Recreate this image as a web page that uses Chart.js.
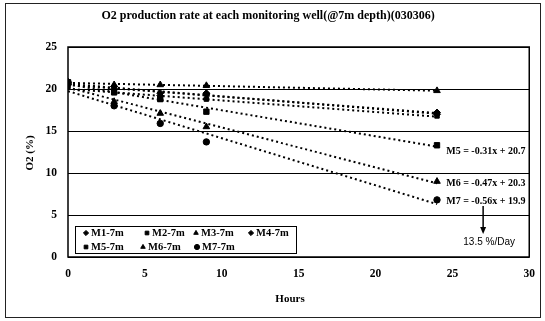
<!DOCTYPE html>
<html>
<head>
<meta charset="utf-8">
<script src="https://cdn.jsdelivr.net/npm/chart.js@4.4.1/dist/chart.umd.min.js"></script>
<style>
  html,body{margin:0;padding:0;background:#fff;}
  #wrap{width:545px;height:321px;position:relative;}
</style>
</head>
<body>
<div id="wrap"><canvas id="c" width="545" height="321"></canvas></div>
<script>
// ---- data ----
const hours = [0, 3, 6, 9, 24];
const seriesNames = ['M1-7m', 'M2-7m', 'M3-7m', 'M4-7m', 'M5-7m', 'M6-7m', 'M7-7m'];
const m1 = [20.8, 20.0, 19.2, 19.4, 17.2];
const m2 = [20.3, 19.6, 18.8, 18.8, 16.8];
const m3 = [20.8, 20.5, 20.5, 20.4, 19.8];
const m4 = [20.5, 20.3, 19.5, 19.5, 17.0];
const m5 = [20.8, 19.6, 18.8, 17.3, 13.3];
const m6 = [20.8, 18.5, 17.1, 15.5, 9.0];
const m7 = [20.8, 18.0, 15.9, 13.7, 6.8];
const yTicks = [0, 5, 10, 15, 20, 25];
const xTicks = [0, 5, 10, 15, 20, 25, 30];
const titleText = 'O2 production rate at each monitoring well(@7m depth)(030306)';
const equations = ['M5 = -0.31x + 20.7', 'M6 = -0.47x + 20.3', 'M7 = -0.56x + 19.9'];
const rateText = '13.5 %/Day';

const allSeries = [m1, m2, m3, m4, m5, m6, m7];
const pointStyles = ['rectRot', 'rect', 'triangle', 'rectRot', 'rect', 'triangle', 'circle'];
const pointSizes = [3.5, 3.2, 3.8, 3.5, 3.8, 3.8, 3.2];

// least-squares trendline (as the spreadsheet's linear trendline)
function fit(xs, ys) {
  const n = xs.length;
  const mx = xs.reduce((a, b) => a + b, 0) / n;
  const my = ys.reduce((a, b) => a + b, 0) / n;
  let sxy = 0, sxx = 0;
  for (let i = 0; i < n; i++) { sxy += (xs[i] - mx) * (ys[i] - my); sxx += (xs[i] - mx) ** 2; }
  const b = sxy / sxx;
  return { b, a: my - b * mx };
}

const datasets = [];
allSeries.forEach((s, i) => {
  const f = fit(hours, s);
  const x0 = hours[0], x1 = hours[hours.length - 1];
  datasets.push({
    label: seriesNames[i] + ' trend',
    data: [{ x: x0, y: f.a + f.b * x0 }, { x: x1, y: f.a + f.b * x1 }],
    showLine: true, borderColor: '#000', borderWidth: 2, borderDash: [2, 3],
    pointRadius: 0, fill: false
  });
});
allSeries.forEach((s, i) => {
  datasets.push({
    label: seriesNames[i],
    data: hours.map((h, k) => ({ x: h, y: s[k] })),
    showLine: false,
    pointStyle: pointStyles[i], pointRadius: pointSizes[i],
    backgroundColor: '#000', borderColor: '#000', borderWidth: 1
  });
});

const SERIF = '"Liberation Serif", "DejaVu Serif", serif';

const decor = {
  id: 'decor',
  beforeDraw(chart) {
    const ctx = chart.ctx;
    ctx.save();
    ctx.fillStyle = '#fff';
    ctx.fillRect(0, 0, chart.width, chart.height);
    ctx.restore();
  },
  afterDraw(chart) {
    const ctx = chart.ctx;
    const ca = chart.chartArea;
    const xs = chart.scales.x;
    ctx.save();
    // outer frame
    ctx.strokeStyle = '#222';
    ctx.lineWidth = 1;
    ctx.strokeRect(5.5, 3.5, 535, 314);
    // plot border
    ctx.strokeStyle = '#000';
    ctx.lineWidth = 1.5;
    ctx.strokeRect(ca.left, ca.top, ca.right - ca.left, ca.bottom - ca.top);
    // title
    ctx.fillStyle = '#000';
    ctx.font = 'bold 12px ' + SERIF;
    ctx.textAlign = 'center';
    ctx.textBaseline = 'middle';
    ctx.fillText(titleText, 268, 16);
    // axis titles
    ctx.font = 'bold 11px ' + SERIF;
    ctx.fillText('Hours', 290, 299);
    ctx.save();
    ctx.translate(30, 153);
    ctx.rotate(-Math.PI / 2);
    ctx.fillText('O2 (%)', 0, 0);
    ctx.restore();

    // legend box
    const lx = 75, ly = 226, lw = 221, lh = 27;
    ctx.fillStyle = '#fff';
    ctx.fillRect(lx, ly, lw, lh);
    ctx.strokeStyle = '#000';
    ctx.lineWidth = 1;
    ctx.strokeRect(lx + 0.5, ly + 0.5, lw, lh);
    const cols = [[86, 147, 196, 251], [86, 143, 197]];
    ctx.font = 'bold 10.5px ' + SERIF;
    ctx.textAlign = 'left';
    let idx = 0;
    [233, 247].forEach((ry, r) => {
      cols[r].forEach(cx => {
        const ds = chart.data.datasets[7 + idx];
        ctx.fillStyle = '#000';
        ctx.strokeStyle = '#000';
        Chart.helpers.drawPoint(ctx, { pointStyle: ds.pointStyle, radius: 2.6, borderWidth: 1 }, cx, ry);
        ctx.fillStyle = '#000';
        ctx.fillText(seriesNames[idx], cx + 5, ry + 0.5);
        idx++;
      });
    });

    // equation labels
    ctx.font = 'bold 10px ' + SERIF;
    ctx.textAlign = 'left';
    const eqPx = [151, 183, 201];
    equations.forEach((t, i) => ctx.fillText(t, xs.getPixelForValue(24.6), eqPx[i]));
    // arrow
    const ax = xs.getPixelForValue(27);
    ctx.strokeStyle = '#000';
    ctx.lineWidth = 1.5;
    ctx.beginPath();
    ctx.moveTo(ax, 206);
    ctx.lineTo(ax, 229);
    ctx.stroke();
    ctx.beginPath();
    ctx.moveTo(ax - 3, 227);
    ctx.lineTo(ax + 3, 227);
    ctx.lineTo(ax, 234);
    ctx.closePath();
    ctx.fill();
    ctx.font = '10px "Liberation Sans", Arial, sans-serif';
    ctx.textAlign = 'center';
    ctx.fillText(rateText, ax + 6, 242);
    ctx.restore();
  }
};

new Chart(document.getElementById('c'), {
  type: 'scatter',
  data: { datasets },
  options: {
    responsive: false,
    animation: false,
    devicePixelRatio: 1,
    layout: { padding: { top: 47, right: 15, left: 0, bottom: 0 } },
    plugins: { legend: { display: false }, tooltip: { enabled: false }, title: { display: false } },
    scales: {
      x: {
        type: 'linear', min: 0, max: 30,
        afterBuildTicks: s => { s.ticks = xTicks.map(v => ({ value: v })); },
        afterFit: s => { s.height = 64; },
        grid: { display: false, drawTicks: false },
        border: { display: false },
        ticks: { color: '#000', padding: 10, font: { family: SERIF, size: 11.5, weight: 'bold' } }
      },
      y: {
        type: 'linear', min: 0, max: 25,
        afterBuildTicks: s => { s.ticks = yTicks.map(v => ({ value: v })); },
        afterFit: s => { s.width = 68; },
        grid: { color: '#000', lineWidth: 1, drawTicks: false },
        border: { display: false },
        ticks: { color: '#000', padding: 11, font: { family: SERIF, size: 11.5, weight: 'bold' } }
      }
    }
  },
  plugins: [decor]
});
</script>
</body>
</html>
